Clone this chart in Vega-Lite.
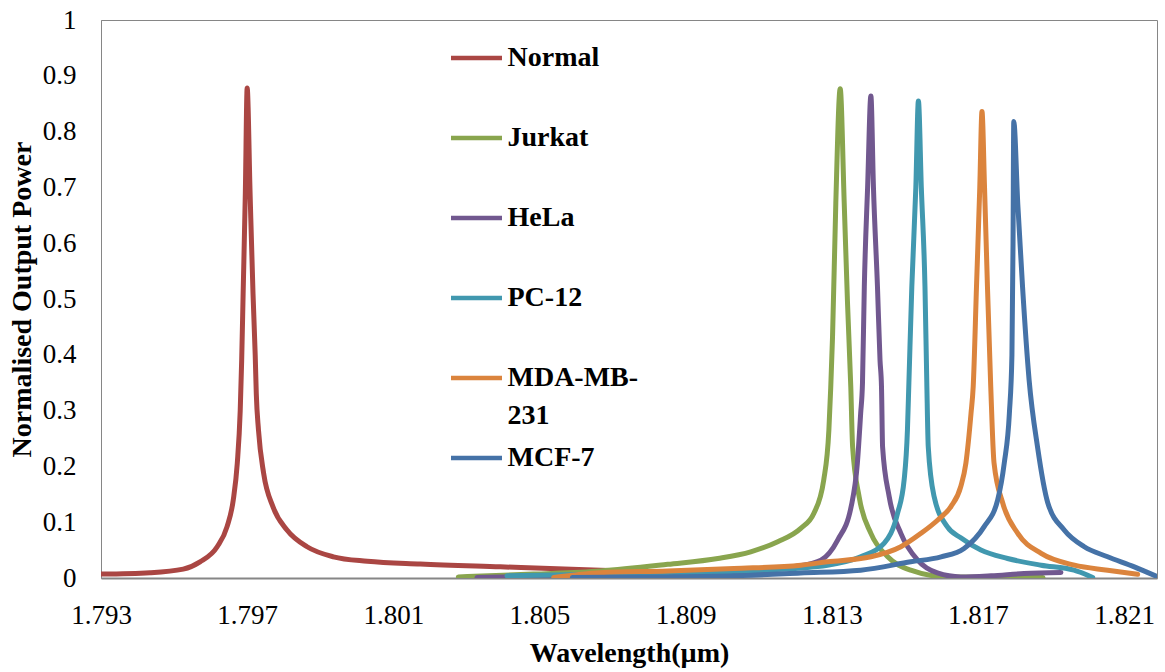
{
  "$schema": "https://vega.github.io/schema/vega-lite/v6.json",
  "width": 1056,
  "height": 558,
  "autosize": {"type": "none"},
  "padding": {"left": 101, "top": 20, "right": 8, "bottom": 94},
  "background": "white",
  "config": {
    "view": {"stroke": "#868686", "strokeWidth": 1},
    "font": "Liberation Serif",
    "style": {"guide-label": {"lineHeight": 38}}
  },
  "datasets": {
    "pts": [
      {"s":"Normal","x":1.793,"y":0.007},{"s":"Normal","x":1.79434,"y":0.0095},{"s":"Normal","x":1.79525,"y":0.016},{"s":"Normal","x":1.79571,"y":0.029},{"s":"Normal","x":1.79618,"y":0.056},{"s":"Normal","x":1.79645,"y":0.092},{"s":"Normal","x":1.79662,"y":0.14},{"s":"Normal","x":1.79673,"y":0.206},{"s":"Normal","x":1.79681,"y":0.30},{"s":"Normal","x":1.79685,"y":0.39},{"s":"Normal","x":1.79689,"y":0.51},{"s":"Normal","x":1.79695,"y":0.69},{"s":"Normal","x":1.797,"y":0.878},{"s":"Normal","x":1.79708,"y":0.69},{"s":"Normal","x":1.79716,"y":0.51},{"s":"Normal","x":1.79722,"y":0.40},{"s":"Normal","x":1.79725,"y":0.33},{"s":"Normal","x":1.79731,"y":0.265},{"s":"Normal","x":1.79745,"y":0.188},{"s":"Normal","x":1.79771,"y":0.127},{"s":"Normal","x":1.79809,"y":0.086},{"s":"Normal","x":1.79864,"y":0.056},{"s":"Normal","x":1.79936,"y":0.038},{"s":"Normal","x":1.80029,"y":0.030},{"s":"Normal","x":1.80174,"y":0.025},{"s":"Normal","x":1.80393,"y":0.020},{"s":"Normal","x":1.80667,"y":0.014},{"s":"Normal","x":1.80941,"y":0.009},
      {"s":"Jurkat","x":1.80278,"y":0.002},{"s":"Jurkat","x":1.80484,"y":0.007},{"s":"Jurkat","x":1.80667,"y":0.0125},{"s":"Jurkat","x":1.80851,"y":0.0245},{"s":"Jurkat","x":1.80988,"y":0.035},{"s":"Jurkat","x":1.81078,"y":0.047},{"s":"Jurkat","x":1.81152,"y":0.065},{"s":"Jurkat","x":1.81215,"y":0.089},{"s":"Jurkat","x":1.81251,"y":0.116},{"s":"Jurkat","x":1.81278,"y":0.176},{"s":"Jurkat","x":1.81292,"y":0.265},{"s":"Jurkat","x":1.81297,"y":0.34},{"s":"Jurkat","x":1.81302,"y":0.432},{"s":"Jurkat","x":1.81311,"y":0.672},{"s":"Jurkat","x":1.81323,"y":0.877},{"s":"Jurkat","x":1.81334,"y":0.672},{"s":"Jurkat","x":1.81343,"y":0.493},{"s":"Jurkat","x":1.81352,"y":0.342},{"s":"Jurkat","x":1.81357,"y":0.235},{"s":"Jurkat","x":1.81375,"y":0.145},{"s":"Jurkat","x":1.81407,"y":0.08},{"s":"Jurkat","x":1.81453,"y":0.038},{"s":"Jurkat","x":1.81516,"y":0.014},{"s":"Jurkat","x":1.81617,"y":0.002},{"s":"Jurkat","x":1.81878,"y":0.001},
      {"s":"HeLa","x":1.80329,"y":0.001},{"s":"HeLa","x":1.80401,"y":0.002},{"s":"HeLa","x":1.80667,"y":0.005},{"s":"HeLa","x":1.80941,"y":0.009},{"s":"HeLa","x":1.81105,"y":0.013},{"s":"HeLa","x":1.81196,"y":0.02},{"s":"HeLa","x":1.8127,"y":0.032},{"s":"HeLa","x":1.81316,"y":0.068},{"s":"HeLa","x":1.81353,"y":0.128},{"s":"HeLa","x":1.8137,"y":0.206},{"s":"HeLa","x":1.81379,"y":0.295},{"s":"HeLa","x":1.81384,"y":0.35},{"s":"HeLa","x":1.81389,"y":0.522},{"s":"HeLa","x":1.81398,"y":0.70},{"s":"HeLa","x":1.81407,"y":0.864},{"s":"HeLa","x":1.81414,"y":0.70},{"s":"HeLa","x":1.81425,"y":0.522},{"s":"HeLa","x":1.81432,"y":0.39},{"s":"HeLa","x":1.81436,"y":0.343},{"s":"HeLa","x":1.81439,"y":0.235},{"s":"HeLa","x":1.81457,"y":0.146},{"s":"HeLa","x":1.81489,"y":0.08},{"s":"HeLa","x":1.81535,"y":0.032},{"s":"HeLa","x":1.81589,"y":0.009},{"s":"HeLa","x":1.81653,"y":0.002},{"s":"HeLa","x":1.81736,"y":0.004},{"s":"HeLa","x":1.81826,"y":0.008},{"s":"HeLa","x":1.81927,"y":0.01},
      {"s":"PC-12","x":1.80411,"y":0.004},{"s":"PC-12","x":1.80667,"y":0.007},{"s":"PC-12","x":1.80941,"y":0.010},{"s":"PC-12","x":1.81105,"y":0.014},{"s":"PC-12","x":1.81288,"y":0.023},{"s":"PC-12","x":1.81379,"y":0.038},{"s":"PC-12","x":1.81443,"y":0.062},{"s":"PC-12","x":1.8148,"y":0.116},{"s":"PC-12","x":1.81498,"y":0.176},{"s":"PC-12","x":1.81507,"y":0.265},{"s":"PC-12","x":1.81511,"y":0.35},{"s":"PC-12","x":1.81519,"y":0.522},{"s":"PC-12","x":1.8153,"y":0.70},{"s":"PC-12","x":1.81537,"y":0.855},{"s":"PC-12","x":1.81545,"y":0.70},{"s":"PC-12","x":1.81555,"y":0.522},{"s":"PC-12","x":1.8156,"y":0.35},{"s":"PC-12","x":1.81564,"y":0.235},{"s":"PC-12","x":1.8158,"y":0.146},{"s":"PC-12","x":1.81616,"y":0.092},{"s":"PC-12","x":1.81653,"y":0.072},{"s":"PC-12","x":1.81708,"y":0.05},{"s":"PC-12","x":1.81781,"y":0.035},{"s":"PC-12","x":1.81873,"y":0.023},{"s":"PC-12","x":1.81963,"y":0.014},{"s":"PC-12","x":1.82014,"y":0.001},
      {"s":"MDA-MB-231","x":1.80539,"y":0.001},{"s":"MDA-MB-231","x":1.80667,"y":0.0095},{"s":"MDA-MB-231","x":1.80851,"y":0.0125},{"s":"MDA-MB-231","x":1.81032,"y":0.017},{"s":"MDA-MB-231","x":1.81215,"y":0.023},{"s":"MDA-MB-231","x":1.81288,"y":0.029},{"s":"MDA-MB-231","x":1.81407,"y":0.038},{"s":"MDA-MB-231","x":1.81489,"y":0.056},{"s":"MDA-MB-231","x":1.81544,"y":0.08},{"s":"MDA-MB-231","x":1.8159,"y":0.104},{"s":"MDA-MB-231","x":1.81626,"y":0.128},{"s":"MDA-MB-231","x":1.81653,"y":0.164},{"s":"MDA-MB-231","x":1.81667,"y":0.206},{"s":"MDA-MB-231","x":1.81681,"y":0.295},{"s":"MDA-MB-231","x":1.81687,"y":0.343},{"s":"MDA-MB-231","x":1.81696,"y":0.522},{"s":"MDA-MB-231","x":1.81705,"y":0.70},{"s":"MDA-MB-231","x":1.81711,"y":0.836},{"s":"MDA-MB-231","x":1.81718,"y":0.70},{"s":"MDA-MB-231","x":1.81726,"y":0.522},{"s":"MDA-MB-231","x":1.81735,"y":0.343},{"s":"MDA-MB-231","x":1.81744,"y":0.206},{"s":"MDA-MB-231","x":1.81768,"y":0.134},{"s":"MDA-MB-231","x":1.81809,"y":0.08},{"s":"MDA-MB-231","x":1.81873,"y":0.044},{"s":"MDA-MB-231","x":1.81964,"y":0.023},{"s":"MDA-MB-231","x":1.82055,"y":0.014},{"s":"MDA-MB-231","x":1.82137,"y":0.0066},
      {"s":"MCF-7","x":1.8059,"y":0.001},{"s":"MCF-7","x":1.80851,"y":0.002},{"s":"MCF-7","x":1.81032,"y":0.004},{"s":"MCF-7","x":1.81215,"y":0.009},{"s":"MCF-7","x":1.81379,"y":0.014},{"s":"MCF-7","x":1.81516,"y":0.029},{"s":"MCF-7","x":1.81599,"y":0.038},{"s":"MCF-7","x":1.81662,"y":0.053},{"s":"MCF-7","x":1.81717,"y":0.092},{"s":"MCF-7","x":1.81754,"y":0.14},{"s":"MCF-7","x":1.81772,"y":0.206},{"s":"MCF-7","x":1.81786,"y":0.295},{"s":"MCF-7","x":1.81793,"y":0.40},{"s":"MCF-7","x":1.81796,"y":0.60},{"s":"MCF-7","x":1.81798,"y":0.818},{"s":"MCF-7","x":1.81809,"y":0.67},{"s":"MCF-7","x":1.81822,"y":0.522},{"s":"MCF-7","x":1.8184,"y":0.355},{"s":"MCF-7","x":1.81863,"y":0.235},{"s":"MCF-7","x":1.81891,"y":0.135},{"s":"MCF-7","x":1.81936,"y":0.086},{"s":"MCF-7","x":1.81991,"y":0.056},{"s":"MCF-7","x":1.82055,"y":0.038},{"s":"MCF-7","x":1.82128,"y":0.02},{"s":"MCF-7","x":1.82192,"y":0.002}
    ]
  },
  "data": {"name": "pts"},
  "mark": {"type": "line", "strokeWidth": 5, "interpolate": "monotone", "strokeCap": "round", "strokeJoin": "round", "clip": true},
  "encoding": {
    "x": {
      "field": "x", "type": "quantitative",
      "scale": {"domain": [1.793, 1.8219], "nice": false, "zero": false},
      "axis": {
        "title": "Wavelength(µm)",
        "values": [1.793, 1.797, 1.801, 1.805, 1.809, 1.813, 1.817, 1.821],
        "format": ".3f",
        "grid": false, "ticks": false,
        "domainColor": "#868686", "domainWidth": 2,
        "labelFont": "Liberation Serif", "labelFontSize": 27, "labelColor": "#000000",
        "labelPadding": 24, "labelFlush": false, "labelOverlap": false,
        "titleFont": "Liberation Serif", "titleFontSize": 28, "titleFontWeight": "bold", "titleColor": "#000000",
        "titlePadding": 11
      }
    },
    "y": {
      "field": "y", "type": "quantitative",
      "scale": {"domain": [0, 1], "nice": false},
      "axis": {
        "title": "Normalised Output Power",
        "values": [0, 0.1, 0.2, 0.3, 0.4, 0.5, 0.6, 0.7, 0.8, 0.9, 1],
        "format": "~g",
        "grid": false, "ticks": false,
        "domainColor": "#868686", "domainWidth": 1,
        "labelFont": "Liberation Serif", "labelFontSize": 27, "labelColor": "#000000",
        "labelPadding": 25, "labelFlush": false, "labelOverlap": false,
        "titleFont": "Liberation Serif", "titleFontSize": 28, "titleFontWeight": "bold", "titleColor": "#000000",
        "titlePadding": 6
      }
    },
    "color": {
      "field": "s", "type": "nominal",
      "scale": {
        "domain": ["Normal", "Jurkat", "HeLa", "PC-12", "MDA-MB-231", "MCF-7"],
        "range": ["#AA4643", "#89A54E", "#71588F", "#4198AF", "#DB843D", "#4572A7"]
      },
      "legend": {
        "title": null,
        "orient": "none",
        "legendX": 347.5,
        "legendY": 10,
        "padding": 0,
        "symbolType": "stroke",
        "symbolSize": 2601,
        "symbolStrokeWidth": 4.5,
        "labelFont": "Liberation Serif",
        "labelFontSize": 28,
        "labelFontWeight": "bold",
        "labelColor": "#000000",
        "labelOffset": 3,
        "labelLimit": 300,
        "labelBaseline": "middle",
        "rowPadding": -21,
        "labelExpr": "datum.label == 'MDA-MB-231' ? ['MDA-MB-', '231'] : [datum.label, '']"
      }
    }
  }
}
